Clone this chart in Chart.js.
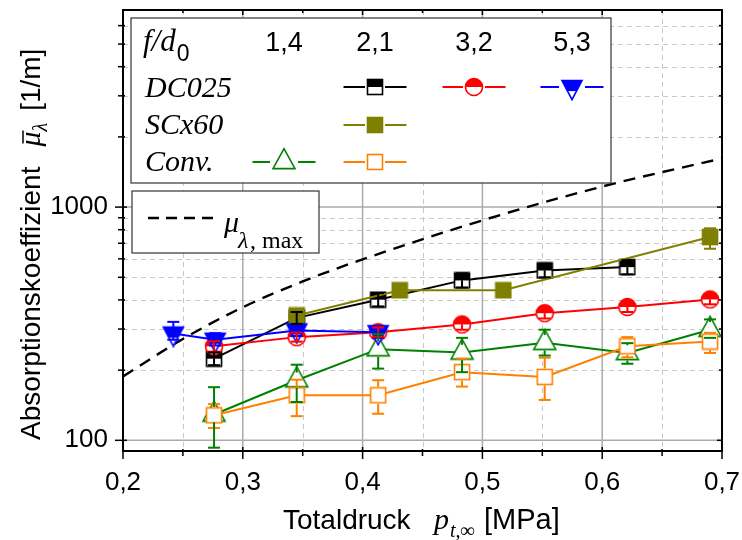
<!DOCTYPE html>
<html>
<head>
<meta charset="utf-8">
<script src="https://cdn.jsdelivr.net/npm/chart.js@4.4.1/dist/chart.umd.min.js"></script>
<style>
  html, body { margin: 0; padding: 0; background: #fff; }
  #wrap { width: 742px; height: 540px; }
</style>
</head>
<body>
<div id="wrap"><canvas id="c" width="742" height="540"></canvas></div>
<script>
// ---- data: total pressure [MPa] vs. mean absorption coefficient [1/m] ----
// DC025, f/d0 = 2,1
const pDC21  = [0.276, 0.345, 0.413, 0.483, 0.552, 0.621];
const muDC21 = [224, 335, 401, 485, 535, 553];
const loDC21 = [210, 315, 375, 452, 500, 515];
const hiDC21 = [238, 355, 428, 520, 572, 592];
// DC025, f/d0 = 3,2
const pDC32  = [0.276, 0.345, 0.413, 0.483, 0.552, 0.621, 0.690];
const muDC32 = [253, 277, 291, 314, 351, 373, 402];
const loDC32 = [240, 265, 278, 298, 333, 355, 383];
const hiDC32 = [266, 290, 305, 330, 370, 392, 422];
// DC025, f/d0 = 5,3
const pDC53  = [0.242, 0.277, 0.345, 0.413];
const muDC53 = [287, 270, 296, 291];
const loDC53 = [270, 255, 280, 275];
const hiDC53 = [322, 288, 313, 308];
// SCx60, f/d0 = 2,1
const pSC21  = [0.345, 0.431, 0.5175, 0.690];
const muSC21 = [343, 440, 440, 744];
const loSC21 = [328, 420, 425, 663];
const hiSC21 = [360, 462, 458, 811];
// Conv., f/d0 = 1,4
const pCV14  = [0.276, 0.345, 0.413, 0.483, 0.552, 0.621, 0.690];
const muCV14 = [129, 181, 246, 238, 262, 237, 298];
const loCV14 = [93, 146, 203, 196, 231, 213, 275];
const hiCV14 = [169, 211, 285, 275, 298, 261, 330];
// Conv., f/d0 = 2,1
const pCV21  = [0.276, 0.345, 0.413, 0.483, 0.552, 0.621, 0.690];
const muCV21 = [128, 156, 156, 196, 187, 253, 265];
const loCV21 = [113, 127, 130, 170, 149, 227, 237];
const hiCV21 = [143, 182, 181, 224, 226, 277, 289];
// upper limit mu_lambda,max
const pMax  = [0.20, 0.25, 0.30, 0.35, 0.40, 0.50, 0.60, 0.70];
const muMax = [188, 272, 372, 480, 597, 877, 1225, 1617];

// ---- axis ticks ----
const xMajor = [0.2, 0.3, 0.4, 0.5, 0.6, 0.7];
const xMinor = [0.25, 0.35, 0.45, 0.55, 0.65];
const yMajor = [100, 1000];
const yMinor = [200, 300, 400, 500, 600, 700, 800, 900, 2000, 3000, 4000, 5000, 6000];

// ---- legend texts ----
const legendCols = ['1,4', '2,1', '3,2', '5,3'];
const legendRows = ['DC025', 'SCx60', 'Conv.'];

const SANS = "'Liberation Sans', Arial, sans-serif";
const SERIF = "'Liberation Serif', 'Times New Roman', serif";

const C = {
  black: '#000000', red: '#ff0000', blue: '#0000ff',
  olive: '#808000', green: '#008000', orange: '#ff8000'
};

// ---- symbol bitmaps ----
function markerCanvas(kind, color) {
  const c = document.createElement('canvas');
  const g = c.getContext('2d');
  const lw = 1.6;
  if (kind === 'halfSquare' || kind === 'fillSquare' || kind === 'openSquare') {
    const s = 15;
    c.width = c.height = s + 3;
    const o = 1.5;
    g.fillStyle = '#fff';
    g.fillRect(o, o, s, s);
    g.fillStyle = color;
    if (kind === 'fillSquare') g.fillRect(o, o, s, s);
    if (kind === 'halfSquare') g.fillRect(o, o, s, s / 2);
    g.strokeStyle = color; g.lineWidth = lw;
    g.strokeRect(o, o, s, s);
    c.gap = s / 2 + 1;
  } else if (kind === 'halfCircle') {
    const d = 17;
    c.width = c.height = d + 3;
    const r = d / 2, cx = c.width / 2;
    g.beginPath(); g.arc(cx, cx, r, 0, Math.PI * 2);
    g.fillStyle = '#fff'; g.fill();
    g.save(); g.clip();
    g.fillStyle = color; g.fillRect(0, 0, c.width, cx);
    g.restore();
    g.beginPath(); g.arc(cx, cx, r, 0, Math.PI * 2);
    g.strokeStyle = color; g.lineWidth = lw; g.stroke();
    c.gap = r + 1;
  } else if (kind === 'halfTriDown') {
    const w = 20, h = 19;
    c.width = w + 4; c.height = 28;
    const cy = c.height / 2, top = cy - h / 3, bot = top + h, l = 2, r = 2 + w;
    g.beginPath(); g.moveTo(l, top); g.lineTo(r, top); g.lineTo(l + w / 2, bot); g.closePath();
    g.fillStyle = '#fff'; g.fill();
    g.save(); g.clip();
    g.fillStyle = color; g.fillRect(0, 0, c.width, top + h * 0.55);
    g.restore();
    g.beginPath(); g.moveTo(l, top); g.lineTo(r, top); g.lineTo(l + w / 2, bot); g.closePath();
    g.strokeStyle = color; g.lineWidth = lw; g.lineJoin = 'miter'; g.stroke();
    c.gap = h / 3 + 1;
  } else if (kind === 'openTriUp') {
    const w = 22, h = 20;
    c.width = w + 4; c.height = 30;
    const cy = c.height / 2, apex = cy - 2 * h / 3, base = apex + h, l = 2, r = 2 + w;
    g.beginPath(); g.moveTo(l + w / 2, apex); g.lineTo(r, base); g.lineTo(l, base); g.closePath();
    g.fillStyle = '#fff'; g.fill();
    g.strokeStyle = color; g.lineWidth = lw; g.stroke();
    c.gap = h / 3 + 1;
  }
  return c;
}

const M = {
  dc21: markerCanvas('halfSquare', C.black),
  dc32: markerCanvas('halfCircle', C.red),
  dc53: markerCanvas('halfTriDown', C.blue),
  sc21: markerCanvas('fillSquare', C.olive),
  cv14: markerCanvas('openTriUp', C.green),
  cv21: markerCanvas('openSquare', C.orange)
};

function pts(px, py) { return px.map((p, i) => ({ x: p, y: py[i] })); }

function series(label, px, py, lo, hi, color, marker, openMarker) {
  return {
    label, data: pts(px, py), errLo: lo, errHi: hi, openMarker,
    borderColor: color, backgroundColor: color, borderWidth: 2,
    pointStyle: marker, pointRadius: 8, pointHoverRadius: 8,
    tension: 0, fill: false
  };
}

// dataset 0 is painted on top
const datasets = [
  series('DC025 5,3', pDC53, muDC53, loDC53, hiDC53, C.blue, M.dc53, false),
  series('DC025 3,2', pDC32, muDC32, loDC32, hiDC32, C.red, M.dc32, false),
  series('SCx60 2,1', pSC21, muSC21, loSC21, hiSC21, C.olive, M.sc21, false),
  series('DC025 2,1', pDC21, muDC21, loDC21, hiDC21, C.black, M.dc21, false),
  series('Conv. 2,1', pCV21, muCV21, loCV21, hiCV21, C.orange, M.cv21, true),
  series('Conv. 1,4', pCV14, muCV14, loCV14, hiCV14, C.green, M.cv14, true),
  {
    label: 'mu max', data: pts(pMax, muMax),
    borderColor: '#000', borderWidth: 2.4, borderDash: [12, 8],
    pointRadius: 0, cubicInterpolationMode: 'monotone', fill: false
  }
];

function seg(ctx, x1, y1, x2, y2) {
  ctx.beginPath(); ctx.moveTo(x1, y1); ctx.lineTo(x2, y2); ctx.stroke();
}

// keep the plot frame exactly where the layout padding puts it
function noScalePadding(s) {
  s.paddingTop = 0; s.paddingBottom = 0; s.paddingLeft = 0; s.paddingRight = 0;
}

const decor = {
  id: 'decor',
  beforeDatasetsDraw(chart) {
    const { ctx, chartArea: a, scales: { x, y } } = chart;
    ctx.save();
    ctx.beginPath(); ctx.rect(a.left, a.top, a.right - a.left, a.bottom - a.top); ctx.clip();
    ctx.lineWidth = 1; ctx.strokeStyle = '#c8c8c8'; ctx.setLineDash([5, 4]);
    xMinor.forEach(v => { const p = Math.round(x.getPixelForValue(v)) + 0.5; seg(ctx, p, a.top, p, a.bottom); });
    yMinor.forEach(v => { const p = Math.round(y.getPixelForValue(v)) + 0.5; seg(ctx, a.left, p, a.right, p); });
    ctx.setLineDash([]); ctx.strokeStyle = '#ababab'; ctx.lineWidth = 1.5;
    xMajor.slice(1, -1).forEach(v => { const p = x.getPixelForValue(v); seg(ctx, p, a.top, p, a.bottom); });
    yMajor.forEach(v => { const p = y.getPixelForValue(v); seg(ctx, a.left, p, a.right, p); });
    ctx.restore();
  },
  afterDatasetsDraw(chart) {
    const { ctx, chartArea: a, scales: { x, y } } = chart;
    ctx.save();
    ctx.beginPath(); ctx.rect(a.left, a.top, a.right - a.left, a.bottom - a.top); ctx.clip();
    // error bars
    chart.data.datasets.forEach(d => {
      if (!d.errLo) return;
      ctx.strokeStyle = d.borderColor; ctx.lineWidth = 2;
      const gap = d.openMarker ? d.pointStyle.gap : 0;
      d.data.forEach((pt, j) => {
        const px = x.getPixelForValue(pt.x), py = y.getPixelForValue(pt.y);
        const top = y.getPixelForValue(d.errHi[j]), bot = y.getPixelForValue(d.errLo[j]);
        if (top < py - gap) seg(ctx, px, py - gap, px, top);
        if (bot > py + gap) seg(ctx, px, py + gap, px, bot);
        seg(ctx, px - 6, top, px + 6, top);
        seg(ctx, px - 6, bot, px + 6, bot);
      });
    });
    ctx.restore();
  },
  afterDraw(chart) {
    const { ctx, chartArea: a, scales: { x, y } } = chart;
    ctx.save();
    // frame
    ctx.strokeStyle = '#000'; ctx.lineWidth = 2; ctx.setLineDash([]);
    ctx.strokeRect(a.left, a.top, a.right - a.left, a.bottom - a.top);
    // ticks
    ctx.lineWidth = 1.5;
    xMajor.forEach(v => { const p = x.getPixelForValue(v); seg(ctx, p, a.bottom - 4, p, a.bottom + 8); seg(ctx, p, a.top, p, a.top + 5); });
    xMinor.forEach(v => { const p = x.getPixelForValue(v); seg(ctx, p, a.bottom - 2, p, a.bottom + 5); seg(ctx, p, a.top, p, a.top + 3); });
    yMajor.forEach(v => { const p = y.getPixelForValue(v); seg(ctx, a.left - 8, p, a.left + 4, p); seg(ctx, a.right - 5, p, a.right, p); });
    yMinor.forEach(v => { const p = y.getPixelForValue(v); seg(ctx, a.left - 5, p, a.left + 2, p); seg(ctx, a.right - 3, p, a.right, p); });

    // legend box 1
    ctx.fillStyle = '#fff'; ctx.strokeStyle = '#333'; ctx.lineWidth = 1.2;
    ctx.fillRect(131, 18, 480, 165); ctx.strokeRect(131, 18, 480, 165);
    ctx.fillStyle = '#000'; ctx.textBaseline = 'alphabetic';
    ctx.textAlign = 'left';
    ctx.font = 'italic 31px ' + SERIF; ctx.fillText('f/d', 143, 51);
    const fw = ctx.measureText('f/d').width;
    ctx.font = '23px ' + SANS; ctx.fillText('0', 143 + fw + 1, 61);
    const colX = [284, 375, 474, 572];
    ctx.textAlign = 'center'; ctx.font = '27px ' + SANS;
    legendCols.forEach((t, i) => ctx.fillText(t, colX[i], 51));
    ctx.textAlign = 'left'; ctx.font = 'italic 30px ' + SERIF;
    const rowY = [87, 125, 162];
    const rowBase = [97, 134, 171];
    legendRows.forEach((t, i) => ctx.fillText(t, 145, rowBase[i]));
    const items = [
      [0, 1, C.black, M.dc21], [0, 2, C.red, M.dc32], [0, 3, C.blue, M.dc53],
      [1, 1, C.olive, M.sc21],
      [2, 0, C.green, M.cv14], [2, 1, C.orange, M.cv21]
    ];
    items.forEach(([r, col, color, mk]) => {
      const cx = colX[col], cy = rowY[r];
      ctx.strokeStyle = color; ctx.lineWidth = 2;
      const hw = mk.width / 2 + 1;
      seg(ctx, cx - 31.5, cy, cx - hw, cy);
      seg(ctx, cx + hw, cy, cx + 31.5, cy);
      ctx.drawImage(mk, Math.round(cx - mk.width / 2), Math.round(cy - mk.height / 2));
    });

    // legend box 2
    ctx.fillStyle = '#fff'; ctx.strokeStyle = '#333'; ctx.lineWidth = 1.2;
    ctx.fillRect(132, 191, 187, 62); ctx.strokeRect(132, 191, 187, 62);
    ctx.strokeStyle = '#000'; ctx.lineWidth = 2.4; ctx.setLineDash([11, 7]);
    seg(ctx, 148, 218, 218, 218);
    ctx.setLineDash([]);
    ctx.fillStyle = '#000';
    ctx.font = 'italic 30px ' + SERIF; ctx.fillText('\u03bc', 224, 232);
    ctx.font = 'italic 24px ' + SERIF; ctx.fillText('\u03bb', 238, 248);
    ctx.font = '24px ' + SERIF; ctx.fillText(', max', 250, 248);

    // x title
    ctx.font = '28px ' + SANS; ctx.fillText('Totaldruck', 283, 529);
    ctx.font = 'italic 30px ' + SERIF; ctx.fillText('p', 434, 529);
    ctx.font = 'italic 20px ' + SERIF; ctx.fillText('t,\u221e', 450, 537);
    ctx.font = '29px ' + SANS; ctx.fillText('[MPa]', 484, 529);

    // y title (rotated)
    ctx.translate(40, 440); ctx.rotate(-Math.PI / 2);
    let cx = 0;
    ctx.font = '28px ' + SANS; ctx.fillText('Absorptionskoeffizient', cx, 0);
    cx += ctx.measureText('Absorptionskoeffizient').width + 20;
    ctx.font = 'italic 30px ' + SERIF; ctx.fillText('\u03bc', cx, 0);
    const mw = ctx.measureText('\u03bc').width;
    ctx.lineWidth = 1.5; ctx.strokeStyle = '#000';
    seg(ctx, cx + 3, -17, cx + mw + 1, -17);
    cx += mw;
    ctx.font = 'italic 20px ' + SERIF; ctx.fillText('\u03bb', cx, 7);
    cx += ctx.measureText('\u03bb').width + 12;
    ctx.font = '28px ' + SANS; ctx.fillText('[1/m]', cx, 0);
    ctx.restore();
  }
};

new Chart(document.getElementById('c'), {
  type: 'line',
  data: { datasets },
  options: {
    responsive: false,
    animation: false,
    events: [],
    layout: { padding: { left: 0, right: 20, top: 10, bottom: 0 } },
    plugins: { legend: { display: false }, tooltip: { enabled: false } },
    scales: {
      x: {
        type: 'linear', min: 0.2, max: 0.7,
        afterBuildTicks: s => { s.ticks = xMajor.map(v => ({ value: v })); },
        afterFit: s => { s.height = 89; noScalePadding(s); },
        grid: { display: false, drawTicks: false },
        border: { display: false },
        ticks: {
          autoSkip: false, maxRotation: 0, padding: 16, color: '#000',
          font: { family: SANS, size: 26 },
          callback: v => Number(v).toFixed(1).replace('.', ',')
        }
      },
      y: {
        type: 'logarithmic', min: 90, max: 7000,
        afterBuildTicks: s => { s.ticks = yMajor.map(v => ({ value: v })); },
        afterFit: s => { s.width = 123; noScalePadding(s); },
        grid: { display: false, drawTicks: false },
        border: { display: false },
        ticks: {
          autoSkip: false, padding: 15, color: '#000',
          font: { family: SANS, size: 26 },
          callback: v => String(v)
        }
      }
    }
  },
  plugins: [decor]
});
</script>
</body>
</html>
